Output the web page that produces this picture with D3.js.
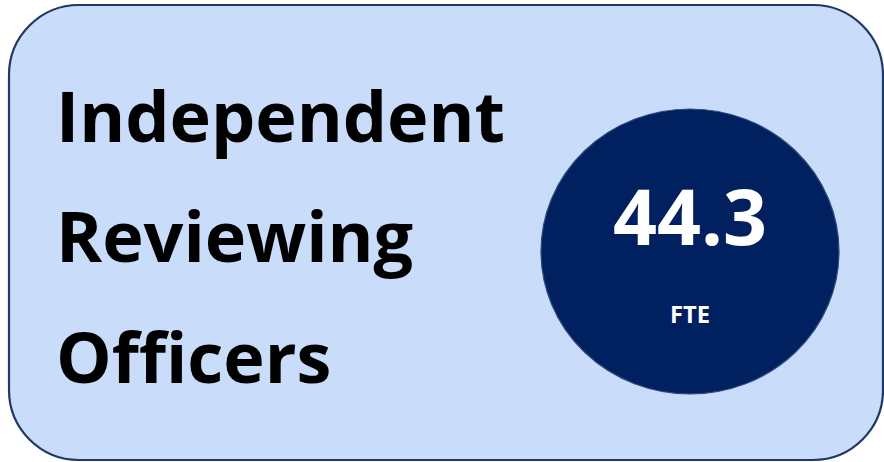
<!DOCTYPE html>
<html><head><meta charset="utf-8">
<script src="https://cdn.jsdelivr.net/npm/d3@7"></script>
<style>html,body{margin:0;padding:0;background:#fff;overflow:hidden}</style>
</head><body>
<svg id="c" width="884" height="462"></svg>
<script>
const titleLines = ["Independent", "Reviewing", "Officers"];
const kpiValues = [44.3];
const kpiUnits = ["FTE"];

const svg = d3.select("#c");
svg.append("rect")
  .attr("x", 9).attr("y", 5).attr("width", 874).attr("height", 455)
  .attr("rx", 70).attr("ry", 70)
  .attr("fill", "#c9dcf9").attr("stroke", "#1f3864").attr("stroke-width", 2.2);

const y = d3.scalePoint().domain(titleLines).range([142, 383]);
const font = "'Open Sans', Lato, sans-serif";
const tt = svg.selectAll("text.t").data(titleLines).join("text")
  .attr("class", "t")
  .attr("x", 56).attr("y", d => y(d))
  .attr("font-family", font).attr("font-weight", 700)
  .attr("font-size", 70).attr("fill", "#000")
  .text(d => d);
const w0 = tt.nodes()[0].getBBox().width;
const sx = 449 / w0;
tt.attr("transform", `translate(56,0) scale(${sx},1) translate(-56,0)`);

const g = svg.append("g").attr("transform", "translate(690,251.5)");
g.append("ellipse").attr("rx", 149).attr("ry", 142.5)
  .attr("fill", "#002060").attr("stroke", "#2e4a7c").attr("stroke-width", 1.2);
const fmt = d3.format(".1f");
g.selectAll("text.v").data(kpiValues).join("text").attr("class", "v")
  .attr("x", 0).attr("y", -6.5).attr("text-anchor", "middle")
  .attr("font-family", font).attr("font-weight", 700).attr("font-size", 77)
  .attr("fill", "#fff").text(d => fmt(d));
const ut = g.selectAll("text.u").data(kpiUnits).join("text").attr("class", "u")
  .attr("x", 0).attr("y", 72).attr("text-anchor", "middle")
  .attr("font-family", font).attr("font-weight", 700).attr("font-size", 22.5)
  .attr("fill", "#fff").text(d => d);
const uw = ut.node().getBBox().width;
ut.attr("transform", `scale(${Math.min(1.2, 40 / uw)},1)`);
</script>
</body></html>
